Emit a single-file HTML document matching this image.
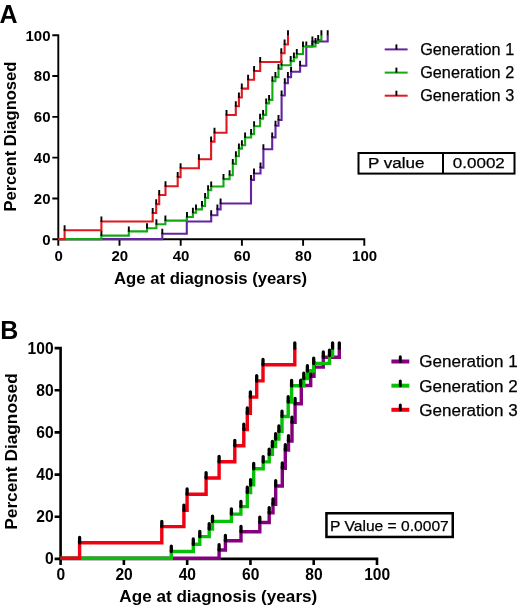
<!DOCTYPE html>
<html><head><meta charset="utf-8"><title>Percent Diagnosed by Generation</title>
<style>
html,body{margin:0;padding:0;background:#fff;}
body{width:520px;height:611px;overflow:hidden;}
svg{display:block;font-family:"Liberation Sans", sans-serif;will-change:transform;}
</style></head>
<body>
<svg width="520" height="611" viewBox="0 0 520 611">
<rect width="520" height="611" fill="#fff"/>
<path d="M58.3 34.25V239.3M52.3 239.3H365.25M52.3 239.3H58.3M58.3 239.3V245.8M52.3 198.48H58.3M119.5 239.3V245.8M52.3 157.66H58.3M180.7 239.3V245.8M52.3 116.84H58.3M241.9 239.3V245.8M52.3 76.02H58.3M303.1 239.3V245.8M52.3 35.2H58.3M364.3 239.3V245.8" fill="none" stroke="#000" stroke-width="1.9"/>
<text x="50.5" y="244.7" font-size="15" font-weight="bold" text-anchor="end" fill="#000" >0</text>
<text x="58.6" y="261.3" font-size="15" font-weight="bold" text-anchor="middle" fill="#000" >0</text>
<text x="50.5" y="203.88" font-size="15" font-weight="bold" text-anchor="end" fill="#000" >20</text>
<text x="119.8" y="261.3" font-size="15" font-weight="bold" text-anchor="middle" fill="#000" >20</text>
<text x="50.5" y="163.06" font-size="15" font-weight="bold" text-anchor="end" fill="#000" >40</text>
<text x="181" y="261.3" font-size="15" font-weight="bold" text-anchor="middle" fill="#000" >40</text>
<text x="50.5" y="122.24" font-size="15" font-weight="bold" text-anchor="end" fill="#000" >60</text>
<text x="242.2" y="261.3" font-size="15" font-weight="bold" text-anchor="middle" fill="#000" >60</text>
<text x="50.5" y="81.42" font-size="15" font-weight="bold" text-anchor="end" fill="#000" >80</text>
<text x="303.4" y="261.3" font-size="15" font-weight="bold" text-anchor="middle" fill="#000" >80</text>
<text x="50.5" y="40.6" font-size="15" font-weight="bold" text-anchor="end" fill="#000" >100</text>
<text x="364.6" y="261.3" font-size="15" font-weight="bold" text-anchor="middle" fill="#000" >100</text>
<path d="M58.3 239.1H162.3V233.75H186.8V221.5H211.2V215.2H217.4V209.4H220.6V203.5H251V179.9H254V173.5H260.5V167.6H263.4V149.2H272.2V137.4H275.5V125.8H278.5V120H281.6V95.5H284.8V83.2H287.9V77.1H291.1V71.7H300.1V65.7H306.3V46.5H312.4V41.5H327.7V35.2" fill="none" stroke="#6424a0" stroke-width="2.1" stroke-linejoin="miter" stroke-linecap="butt"/>
<path d="M162.3 234.15V228.75M186.8 221.9V216.5M211.2 215.6V210.2M217.4 209.8V204.4M220.6 203.9V198.5M251 180.3V174.9M254 173.9V168.5M260.5 168V162.6M263.4 149.6V144.2M272.2 137.8V132.4M275.5 126.2V120.8M278.5 120.4V115M281.6 95.9V90.5M284.8 83.6V78.2M287.9 77.5V72.1M291.1 72.1V66.7M300.1 66.1V60.7M306.3 46.9V41.5M312.4 41.9V36.5M327.7 35.6V30.2M312.4 46.9V41.5" fill="none" stroke="#000" stroke-width="1.9" stroke-linecap="butt"/>
<path d="M58.3 239.1H101.4V235.6H128.8V231.4H147V228.2H156.4V224.3H165.4V220.6H187V217H192.9V212.8H196V209.4H202V206H205.1V197.9H208.1V190.2H211.2V186.5H223.5V179.1H229.6V175.2H232.8V163.9H235.9V156.25H238.9V148.6H241.9V145.2H245.1V137.5H251.1V134.1H254.1V126.2H260.1V118.7H263.1V114.9H266.2V103.4H269.1V99.9H272.4V81.2H275.4V77.1H278.5V68.9H281.5V65.2H290.7V61.1H293.9V57.5H296.8V54H303V46.5H315.5V43H318.2V40H321.4V35.2" fill="none" stroke="#14a814" stroke-width="2.1" stroke-linejoin="miter" stroke-linecap="butt"/>
<path d="M101.4 236V230.6M128.8 231.8V226.4M147 228.6V223.2M156.4 224.7V219.3M165.4 221V215.6M187 217.4V212M192.9 213.2V207.8M196 209.8V204.4M202 206.4V201M205.1 198.3V192.9M208.1 190.6V185.2M211.2 186.9V181.5M223.5 179.5V174.1M229.6 175.6V170.2M232.8 164.3V158.9M235.9 156.65V151.25M238.9 149V143.6M241.9 145.6V140.2M245.1 137.9V132.5M251.1 134.5V129.1M254.1 126.6V121.2M260.1 119.1V113.7M263.1 115.3V109.9M266.2 103.8V98.4M269.1 100.3V94.9M272.4 81.6V76.2M275.4 77.5V72.1M278.5 69.3V63.9M281.5 65.6V60.2M290.7 61.5V56.1M293.9 57.9V52.5M296.8 54.4V49M303 46.9V41.5M315.5 43.4V38M318.2 40.4V35M321.4 35.6V30.2" fill="none" stroke="#000" stroke-width="1.9" stroke-linecap="butt"/>
<path d="M58.3 239.1H64.6V230.3H101.4V221.5H152.7V213H156.2V204.2H159.2V195H165.5V186.3H177.7V177.1H180.6V168.2H198.9V159.3H211.1V141.6H214.5V132.8H226.5V115H235.8V106.3H238.9V97.5H241.8V88.6H248.1V79.8H254.1V71H260.2V62H281.3V53.2H284.6V44.5H288V35.2" fill="none" stroke="#e0181f" stroke-width="2.1" stroke-linejoin="miter" stroke-linecap="butt"/>
<path d="M64.6 230.7V225.3M101.4 221.9V216.5M152.7 213.4V208M156.2 204.6V199.2M159.2 195.4V190M165.5 186.7V181.3M177.7 177.5V172.1M180.6 168.6V163.2M198.9 159.7V154.3M211.1 142V136.6M214.5 133.2V127.8M226.5 115.4V110M235.8 106.7V101.3M238.9 97.9V92.5M241.8 89V83.6M248.1 80.2V74.8M254.1 71.4V66M260.2 62.4V57M281.3 53.6V48.2M284.6 44.9V39.5M288 35.6V30.2" fill="none" stroke="#000" stroke-width="1.9" stroke-linecap="butt"/>
<path d="M384.7 49.4H407.6" stroke="#6424a0" stroke-width="2"/>
<path d="M396.4 49.4V44.4" stroke="#000" stroke-width="1.9"/>
<text x="420.2" y="55.1" font-size="16.3" font-weight="normal" text-anchor="start" fill="#000" textLength="94" lengthAdjust="spacingAndGlyphs" stroke="#000" stroke-width="0.25">Generation 1</text>
<path d="M384.7 72.6H407.6" stroke="#14a814" stroke-width="2"/>
<path d="M396.4 72.6V67.6" stroke="#000" stroke-width="1.9"/>
<text x="420.2" y="78.3" font-size="16.3" font-weight="normal" text-anchor="start" fill="#000" textLength="94" lengthAdjust="spacingAndGlyphs" stroke="#000" stroke-width="0.25">Generation 2</text>
<path d="M384.7 95.7H407.6" stroke="#e0181f" stroke-width="2"/>
<path d="M396.4 95.7V90.7" stroke="#000" stroke-width="1.9"/>
<text x="420.2" y="101.4" font-size="16.3" font-weight="normal" text-anchor="start" fill="#000" textLength="94" lengthAdjust="spacingAndGlyphs" stroke="#000" stroke-width="0.25">Generation 3</text>
<rect x="358.5" y="153" width="156" height="20.6" fill="none" stroke="#000" stroke-width="2"/>
<path d="M443 153V173.6" stroke="#000" stroke-width="2"/>
<text x="367.9" y="168" font-size="15.2" font-weight="normal" text-anchor="start" fill="#000" textLength="56.6" lengthAdjust="spacingAndGlyphs" stroke="#000" stroke-width="0.25">P value</text>
<text x="452.8" y="168" font-size="15.2" font-weight="normal" text-anchor="start" fill="#000" textLength="52" lengthAdjust="spacingAndGlyphs" stroke="#000" stroke-width="0.25">0.0002</text>
<text x="-0.6" y="22.5" font-size="25" font-weight="bold" text-anchor="start" fill="#000" >A</text>
<text transform="translate(16.4 136.6) rotate(-90)" x="0" y="0" font-size="16.6" font-weight="bold" text-anchor="middle" textLength="150" lengthAdjust="spacingAndGlyphs">Percent Diagnosed</text>
<text x="210.5" y="283.8" font-size="16.3" font-weight="bold" text-anchor="middle" fill="#000" textLength="193" lengthAdjust="spacingAndGlyphs">Age at diagnosis (years)</text>
<path d="M60.6 346.8V558.9M54.6 558.9H378.3M54.6 558.9H60.6M60.6 558.9V565.1M54.6 516.74H60.6M123.88 558.9V565.1M54.6 474.58H60.6M187.16 558.9V565.1M54.6 432.42H60.6M250.44 558.9V565.1M54.6 390.26H60.6M313.72 558.9V565.1M54.6 348.1H60.6M377 558.9V565.1" fill="none" stroke="#000" stroke-width="2.6"/>
<text x="53.6" y="564.4" font-size="15.6" font-weight="bold" text-anchor="end" fill="#000" >0</text>
<text x="60.8" y="579.7" font-size="15.6" font-weight="bold" text-anchor="middle" fill="#000" >0</text>
<text x="53.6" y="522.24" font-size="15.6" font-weight="bold" text-anchor="end" fill="#000" >20</text>
<text x="124.08" y="579.7" font-size="15.6" font-weight="bold" text-anchor="middle" fill="#000" >20</text>
<text x="53.6" y="480.08" font-size="15.6" font-weight="bold" text-anchor="end" fill="#000" >40</text>
<text x="187.36" y="579.7" font-size="15.6" font-weight="bold" text-anchor="middle" fill="#000" >40</text>
<text x="53.6" y="437.92" font-size="15.6" font-weight="bold" text-anchor="end" fill="#000" >60</text>
<text x="250.64" y="579.7" font-size="15.6" font-weight="bold" text-anchor="middle" fill="#000" >60</text>
<text x="53.6" y="395.76" font-size="15.6" font-weight="bold" text-anchor="end" fill="#000" >80</text>
<text x="313.92" y="579.7" font-size="15.6" font-weight="bold" text-anchor="middle" fill="#000" >80</text>
<text x="53.6" y="353.6" font-size="15.6" font-weight="bold" text-anchor="end" fill="#000" >100</text>
<text x="377.2" y="579.7" font-size="15.6" font-weight="bold" text-anchor="middle" fill="#000" >100</text>
<path d="M60.6 558.3H219.1V550H225.4V540.8H241V531.7H259.8V522.5H269.2V512.9H273V504.2H275.7V486H282.3V468.2H285.3V450H288.5V441H292V422.4H295.1V403.7H301.3V385.5H310.7V376.3H314V367.1H323.3V357.2H339.3V348.1" fill="none" stroke="#84007e" stroke-width="3.4" stroke-linejoin="miter" stroke-linecap="butt"/>
<path d="M219.1 550.1V544.7M225.4 540.9V535.5M241 531.8V526.4M259.8 522.6V517.2M269.2 513V507.6M273 504.3V498.9M275.7 486.1V480.7M282.3 468.3V462.9M285.3 450.1V444.7M288.5 441.1V435.7M292 422.5V417.1M295.1 403.8V398.4M301.3 385.6V380.2M310.7 376.4V371M314 367.2V361.8M323.3 357.3V351.9M339.3 348.2V342.8" fill="none" stroke="#000" stroke-width="3.3" stroke-linecap="round"/>
<path d="M60.6 558.3H171.3V551.5H193.3V544.3H199.8V536.6H209.2V529H212.5V521.4H231.4V514.1H240.9V506.6H247.3V492.5H250.6V484.9H253.7V468.7H263.2V461.9H269.2V454.4H272.4V446.6H275.6V439H278.9V431.3H282V416.5H288.2V402H291.6V385.8H303.8V378.5H307.4V371H313.7V363.4H329.5V355.5H332.6V348.1" fill="none" stroke="#08c008" stroke-width="3.4" stroke-linejoin="miter" stroke-linecap="butt"/>
<path d="M171.3 551.6V546.2M193.3 544.4V539M199.8 536.7V531.3M209.2 529.1V523.7M212.5 521.5V516.1M231.4 514.2V508.8M240.9 506.7V501.3M247.3 492.6V487.2M250.6 485V479.6M253.7 468.8V463.4M263.2 462V456.6M269.2 454.5V449.1M272.4 446.7V441.3M275.6 439.1V433.7M278.9 431.4V426M282 416.6V411.2M288.2 402.1V396.7M291.6 385.9V380.5M303.8 378.6V373.2M307.4 371.1V365.7M313.7 363.5V358.1M329.5 355.6V350.2M332.6 348.2V342.8M300.6 385.9V380.5" fill="none" stroke="#000" stroke-width="3.3" stroke-linecap="round"/>
<path d="M60.6 558.3H79.6V542.8H161.8V526.6H183.9V510.4H187.1V494.2H206.1V478H219.1V461.8H234.8V445.7H243.8V429.5H247.3V413.3H250.4V397.1H256.7V380.9H263V364.7H294.8V348.1" fill="none" stroke="#f00010" stroke-width="3.4" stroke-linejoin="miter" stroke-linecap="butt"/>
<path d="M79.6 542.9V537.5M161.8 526.7V521.3M183.9 510.5V505.1M187.1 494.3V488.9M206.1 478.1V472.7M219.1 461.9V456.5M234.8 445.8V440.4M243.8 429.6V424.2M247.3 413.4V408M250.4 397.2V391.8M256.7 381V375.6M263 364.8V359.4M294.8 348.2V342.8" fill="none" stroke="#000" stroke-width="3.3" stroke-linecap="round"/>
<path d="M391.4 361.5H409.3" stroke="#84007e" stroke-width="4"/>
<path d="M400.3 361.5V356.7" stroke="#000" stroke-width="3" stroke-linecap="round"/>
<text x="419.2" y="367.3" font-size="16.8" font-weight="normal" text-anchor="start" fill="#000" textLength="98.6" lengthAdjust="spacingAndGlyphs" stroke="#000" stroke-width="0.25">Generation 1</text>
<path d="M391.4 385.7H409.3" stroke="#08c008" stroke-width="4"/>
<path d="M400.3 385.7V380.9" stroke="#000" stroke-width="3" stroke-linecap="round"/>
<text x="419.2" y="391.5" font-size="16.8" font-weight="normal" text-anchor="start" fill="#000" textLength="98.6" lengthAdjust="spacingAndGlyphs" stroke="#000" stroke-width="0.25">Generation 2</text>
<path d="M391.4 409.8H409.3" stroke="#f00010" stroke-width="4"/>
<path d="M400.3 409.8V405" stroke="#000" stroke-width="3" stroke-linecap="round"/>
<text x="419.2" y="415.6" font-size="16.8" font-weight="normal" text-anchor="start" fill="#000" textLength="98.6" lengthAdjust="spacingAndGlyphs" stroke="#000" stroke-width="0.25">Generation 3</text>
<rect x="326.45" y="513.25" width="126.3" height="23.7" fill="none" stroke="#000" stroke-width="2.5"/>
<text x="330" y="530.6" font-size="15.4" font-weight="normal" text-anchor="start" fill="#000" textLength="118.8" lengthAdjust="spacingAndGlyphs" stroke="#000" stroke-width="0.25">P Value = 0.0007</text>
<text x="0.2" y="339.2" font-size="25" font-weight="bold" text-anchor="start" fill="#000" >B</text>
<text transform="translate(16.5 451.5) rotate(-90)" x="0" y="0" font-size="17" font-weight="bold" text-anchor="middle" textLength="156.5" lengthAdjust="spacingAndGlyphs">Percent Diagnosed</text>
<text x="218.3" y="602.3" font-size="16.9" font-weight="bold" text-anchor="middle" fill="#000" textLength="198" lengthAdjust="spacingAndGlyphs">Age at diagnosis (years)</text>
</svg>
</body></html>
